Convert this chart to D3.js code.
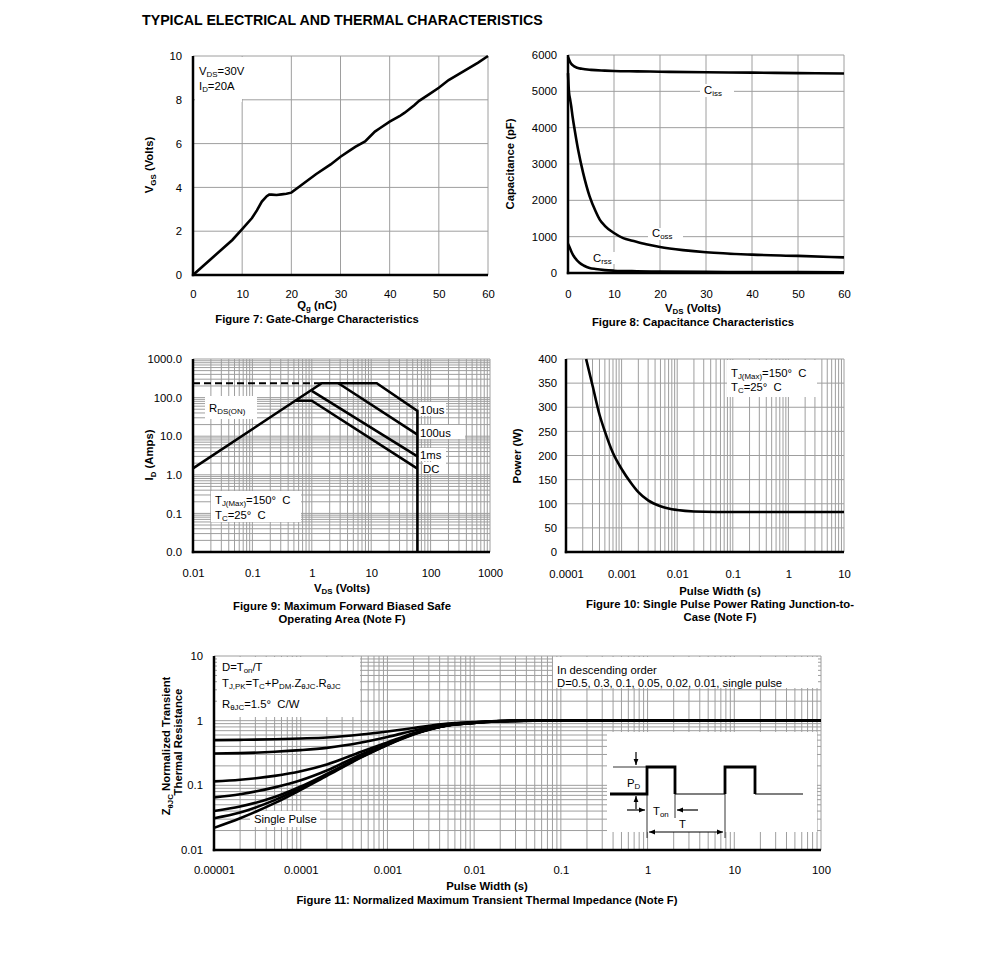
<!DOCTYPE html>
<html>
<head>
<meta charset="utf-8">
<script src="https://cdn.jsdelivr.net/npm/d3@7"></script>
<style>
  body { margin: 0; background: #fff; }
</style>
</head>
<body>
<svg id="chart" width="991" height="959"></svg>
<script>
// ---- Figure 7: gate charge
const qgNc = [0, 2, 4, 6, 8, 10, 12, 13, 14, 15, 15.5, 16, 17, 18, 19, 20, 22, 25, 28, 30, 32, 33, 35, 37, 38, 40, 42, 43, 45, 46, 48, 50, 52, 55, 58, 60]
const vgsVolts = [0, 0.4, 0.8, 1.2, 1.6, 2.1, 2.6, 2.95, 3.35, 3.6, 3.67, 3.67, 3.65, 3.68, 3.71, 3.76, 4.1, 4.6, 5.05, 5.4, 5.7, 5.85, 6.1, 6.55, 6.7, 7.0, 7.25, 7.4, 7.75, 7.95, 8.25, 8.55, 8.9, 9.3, 9.7, 10]
const qgTicks = [0, 10, 20, 30, 40, 50, 60]
const vgsTicks = [0, 2, 4, 6, 8, 10]

// ---- Figure 8: capacitance
const vdsCiss = [0, 0.5, 1, 2, 3, 5, 8, 10, 15, 20, 30, 40, 50, 60]
const ciss = [5950, 5800, 5720, 5650, 5620, 5590, 5570, 5560, 5550, 5540, 5525, 5515, 5500, 5490]
const vdsCoss = [0, 0.2, 0.5, 0.7, 1, 1.5, 2.2, 3.3, 4.7, 6, 6.9, 8, 10, 12, 14, 17, 20, 25, 30, 40, 50, 60]
const coss = [5500, 5000, 4750, 4590, 4300, 3900, 3390, 2750, 2110, 1700, 1470, 1300, 1100, 960, 890, 790, 715, 630, 570, 505, 470, 430]
const vdsCrss = [0, 0.3, 0.7, 1, 1.5, 2.5, 3.5, 4.7, 6, 8, 10, 15, 20, 30, 40, 60]
const crss = [800, 720, 600, 520, 420, 280, 200, 140, 110, 80, 64, 48, 40, 32, 27, 22]
const capVdsTicks = [0, 10, 20, 30, 40, 50, 60]
const capTicks = [0, 1000, 2000, 3000, 4000, 5000, 6000]

// ---- Figure 9: safe operating area
const soaTopV = [0.01, 1.47, 12.4, 60, 60]
const soaTopI = [1.47, 235, 235, 45, 0.01]
const soa100usV = [2.8, 60]
const soa100usI = [235, 11]
const soa1msV = [1, 60]
const soa1msI = [150, 3]
const soaDcV = [0.54, 1, 60]
const soaDcI = [83, 83, 1.45]
const rdsLimitV = [0.01, 1.47]
const rdsLimitI = [235, 235]
const soaVTicks = [0.01, 0.1, 1, 10, 100, 1000]
const soaVLabels = ['0.01', '0.1', '1', '10', '100', '1000']
const soaITicks = [0.01, 0.1, 1, 10, 100, 1000]
const soaILabels = ['0.0', '0.1', '1.0', '10.0', '100.0', '1000.0']

// ---- Figure 10: single pulse power
const pulseS = [0.00023, 0.0003, 0.0004, 0.0005, 0.0007, 0.001, 0.0015, 0.002, 0.003, 0.005, 0.007, 0.01, 0.02, 0.05, 0.1, 1, 10]
const powerW = [400, 345, 285, 250, 205, 172, 142, 124, 107, 95, 90, 87, 84, 83, 83, 83, 83]
const pwTicks = [0.0001, 0.001, 0.01, 0.1, 1, 10]
const pwLabels = ['0.0001', '0.001', '0.01', '0.1', '1', '10']
const powerTicks = [0, 50, 100, 150, 200, 250, 300, 350, 400]

// ---- Figure 11: transient thermal impedance
const zthT = [1e-5, 2e-5, 5e-5, 1e-4, 2e-4, 5e-4, 1e-3, 2e-3, 5e-3, 1e-2, 2e-2, 5e-2, 0.1, 1, 10, 100]
const zthD05 = [0.5, 0.505, 0.515, 0.53, 0.55, 0.61, 0.68, 0.77, 0.9, 0.95, 0.99, 1, 1, 1, 1, 1]
const zthD03 = [0.31, 0.315, 0.33, 0.35, 0.38, 0.46, 0.56, 0.7, 0.87, 0.94, 0.99, 1, 1, 1, 1, 1]
const zthD01 = [0.115, 0.122, 0.14, 0.165, 0.21, 0.33, 0.46, 0.64, 0.85, 0.93, 0.99, 1, 1, 1, 1, 1]
const zthD005 = [0.065, 0.073, 0.093, 0.12, 0.17, 0.3, 0.44, 0.63, 0.85, 0.93, 0.99, 1, 1, 1, 1, 1]
const zthD002 = [0.04, 0.047, 0.066, 0.096, 0.15, 0.28, 0.43, 0.62, 0.85, 0.92, 0.98, 1, 1, 1, 1, 1]
const zthD001 = [0.031, 0.038, 0.059, 0.09, 0.145, 0.275, 0.425, 0.62, 0.85, 0.92, 0.98, 1, 1, 1, 1, 1]
const zthSingle = [0.022, 0.031, 0.053, 0.085, 0.14, 0.27, 0.42, 0.61, 0.84, 0.92, 0.98, 1, 1, 1, 1, 1]
const zthTicks = [1e-5, 1e-4, 1e-3, 1e-2, 0.1, 1, 10, 100]
const zthTLabels = ['0.00001', '0.0001', '0.001', '0.01', '0.1', '1', '10', '100']
const zthTicksY = [0.01, 0.1, 1, 10]
const zthYLabels = ['0.01', '0.1', '1', '10']

const FONT = '"Liberation Sans", Arial, Helvetica, sans-serif'
const FS = 11.3
const GRID = '#9e9e9e'
const svg = d3.select('#chart').attr('font-family', FONT)

// text with subscripts: plain strings are normal, [str] is subscript
function label (g, x, y, parts, opts) {
  opts = opts || {}
  const size = opts.size || FS
  const t = g.append('text')
    .attr('font-size', size)
    .attr('font-weight', opts.bold ? 'bold' : 'normal')
    .attr('text-anchor', opts.anchor || 'start')
    .attr('fill', '#000')
  if (opts.rotate) {
    t.attr('transform', 'translate(' + x + ',' + y + ') rotate(-90)')
  } else {
    t.attr('x', x).attr('y', y)
  }
  let down = false
  parts.forEach(function (p) {
    const isSub = Array.isArray(p)
    const ts = t.append('tspan').text(isSub ? p[0] : p)
    if (isSub) {
      ts.attr('font-size', size * 0.7)
      if (!down) { ts.attr('dy', size * 0.22); down = true }
    } else if (down) {
      ts.attr('dy', -size * 0.22); down = false
    }
  })
  return t
}

function whiteBox (g, x, y, w, h) {
  g.append('rect').attr('x', x).attr('y', y).attr('width', w).attr('height', h).attr('fill', '#fff')
}

function grid (g, x, y, xs, ys) {
  const [x0, x1] = x.range()
  const [y0, y1] = y.range()
  g.append('g').selectAll('line').data(xs).join('line')
    .attr('x1', d => x(d)).attr('x2', d => x(d))
    .attr('y1', y0).attr('y2', y1)
    .attr('stroke', GRID).attr('stroke-width', 1)
  g.append('g').selectAll('line').data(ys).join('line')
    .attr('x1', x0).attr('x2', x1)
    .attr('y1', d => y(d)).attr('y2', d => y(d))
    .attr('stroke', GRID).attr('stroke-width', 1)
}

function curve (g, x, y, xs, ys, opts) {
  opts = opts || {}
  const pts = xs.map((d, i) => [d, ys[i]])
  const line = d3.line().x(d => x(d[0])).y(d => y(d[1]))
    .curve(opts.smooth ? d3.curveMonotoneX : d3.curveLinear)
  g.append('path').datum(pts).attr('d', line)
    .attr('fill', 'none').attr('stroke', '#000')
    .attr('stroke-width', opts.width || 2.6)
    .attr('stroke-linejoin', 'miter')
    .attr('stroke-dasharray', opts.dash || null)
}

function axes (g, x, y, xt, xl, yt, yl, xpad, ypad) {
  const [x0, x1] = x.range()
  const [y0, y1] = y.range()
  g.append('g').attr('transform', 'translate(0,' + y0 + ')')
    .call(d3.axisBottom(x).tickValues(xt).tickFormat((d, i) => xl[i]).tickSize(0).tickPadding(xpad))
    .call(a => a.select('.domain').remove())
    .attr('font-family', FONT).attr('font-size', FS)
  g.append('g').attr('transform', 'translate(' + x0 + ',0)')
    .call(d3.axisLeft(y).tickValues(yt).tickFormat((d, i) => yl[i]).tickSize(0).tickPadding(ypad))
    .call(a => a.select('.domain').remove())
    .attr('font-family', FONT).attr('font-size', FS)
  g.append('line').attr('x1', x0).attr('x2', x0).attr('y1', y0 + 1.2).attr('y2', y1)
    .attr('stroke', '#000').attr('stroke-width', 2.5)
  g.append('line').attr('x1', x0 - 1.2).attr('x2', x1).attr('y1', y0).attr('y2', y0)
    .attr('stroke', '#000').attr('stroke-width', 2.5)
}

// page title
svg.append('text').attr('x', 142).attr('y', 25)
  .attr('font-size', 14.2).attr('font-weight', 'bold')
  .text('TYPICAL ELECTRICAL AND THERMAL CHARACTERISTICS')

// ---------- Figure 7
{
  const g = svg.append('g')
  const x = d3.scaleLinear().domain([0, 60]).range([193, 488])
  const y = d3.scaleLinear().domain([0, 10]).range([275, 56])
  grid(g, x, y, qgTicks, vgsTicks)
  whiteBox(g, 195, 57, 95, 42)
  whiteBox(g, 195, 99, 47, 3)
  curve(g, x, y, qgNc, vgsVolts)
  axes(g, x, y, qgTicks, qgTicks.map(String), vgsTicks, vgsTicks.map(String), 15, 11)
  label(g, 199, 75, ['V', ['DS'], '=30V'])
  label(g, 199, 90, ['I', ['D'], '=20A'])
  label(g, 153, 165, ['V', ['GS'], ' (Volts)'], { bold: true, anchor: 'middle', rotate: true })
  label(g, 317, 309, ['Q', ['g'], ' (nC)'], { bold: true, anchor: 'middle' })
  label(g, 317, 323, ['Figure 7: Gate-Charge Characteristics'], { bold: true, anchor: 'middle' })
}

// ---------- Figure 8
{
  const g = svg.append('g')
  const x = d3.scaleLinear().domain([0, 60]).range([568, 844])
  const y = d3.scaleLinear().domain([0, 6000]).range([273, 55])
  grid(g, x, y, capVdsTicks, capTicks)
  whiteBox(g, 700, 84, 34, 13)
  whiteBox(g, 648, 228, 35, 12)
  whiteBox(g, 590, 252, 25, 12)
  curve(g, x, y, vdsCiss, ciss, { smooth: true })
  curve(g, x, y, vdsCoss, coss, { smooth: true })
  curve(g, x, y, vdsCrss, crss, { smooth: true })
  axes(g, x, y, capVdsTicks, capVdsTicks.map(String), capTicks, capTicks.map(String), 17, 11)
  label(g, 704, 94, ['C', ['iss']])
  label(g, 652, 237, ['C', ['oss']])
  label(g, 593, 262, ['C', ['rss']])
  label(g, 514, 164, ['Capacitance (pF)'], { bold: true, anchor: 'middle', rotate: true })
  label(g, 693, 312, ['V', ['DS'], ' (Volts)'], { bold: true, anchor: 'middle' })
  label(g, 693, 326, ['Figure 8: Capacitance Characteristics'], { bold: true, anchor: 'middle' })
}

// ---------- Figure 9
{
  const g = svg.append('g')
  const x = d3.scaleLog().domain([0.01, 1000]).range([193, 490])
  const y = d3.scaleLog().domain([0.01, 1000]).range([552, 359])
  grid(g, x, y, x.ticks(), y.ticks())
  whiteBox(g, 205, 396, 52, 23)
  whiteBox(g, 211, 491, 90, 31)
  whiteBox(g, 419, 402, 27, 14)
  whiteBox(g, 419, 425, 46, 14)
  whiteBox(g, 419, 448, 27, 13)
  whiteBox(g, 423, 462, 23, 12)
  curve(g, x, y, rdsLimitV, rdsLimitI, { width: 2, dash: '7,4' })
  curve(g, x, y, soaTopV, soaTopI)
  curve(g, x, y, soa100usV, soa100usI)
  curve(g, x, y, soa1msV, soa1msI)
  curve(g, x, y, soaDcV, soaDcI)
  axes(g, x, y, soaVTicks, soaVLabels, soaITicks, soaILabels, 17, 11)
  label(g, 209, 412, ['R', ['DS(ON)']])
  label(g, 420, 414, ['10us'])
  label(g, 420, 437, ['100us'])
  label(g, 420, 459, ['1ms'])
  label(g, 423, 473, ['DC'])
  label(g, 215, 504, ['T', ['J(Max)'], '=150°\u00a0 C'])
  label(g, 215, 519, ['T', ['C'], '=25°\u00a0 C'])
  label(g, 153, 455, ['I', ['D'], ' (Amps)'], { bold: true, anchor: 'middle', rotate: true })
  label(g, 342, 592, ['V', ['DS'], ' (Volts)'], { bold: true, anchor: 'middle' })
  label(g, 342, 610, ['Figure 9: Maximum Forward Biased Safe'], { bold: true, anchor: 'middle' })
  label(g, 342, 623, ['Operating Area (Note F)'], { bold: true, anchor: 'middle' })
}

// ---------- Figure 10
{
  const g = svg.append('g')
  const x = d3.scaleLog().domain([0.0001, 10]).range([566, 844])
  const y = d3.scaleLinear().domain([0, 400]).range([552, 359])
  grid(g, x, y, x.ticks(), powerTicks)
  whiteBox(g, 727, 360, 90, 37)
  curve(g, x, y, pulseS, powerW, { smooth: true })
  axes(g, x, y, pwTicks, pwLabels, powerTicks, powerTicks.map(String), 18, 9)
  label(g, 731, 377, ['T', ['J(Max)'], '=150°\u00a0 C'])
  label(g, 731, 391, ['T', ['C'], '=25°\u00a0 C'])
  label(g, 521, 456, ['Power (W)'], { bold: true, anchor: 'middle', rotate: true })
  label(g, 720, 595, ['Pulse Width (s)'], { bold: true, anchor: 'middle' })
  label(g, 720, 608, ['Figure 10: Single Pulse Power Rating Junction-to-'], { bold: true, anchor: 'middle' })
  label(g, 720, 621, ['Case (Note F)'], { bold: true, anchor: 'middle' })
}

// ---------- Figure 11
{
  const g = svg.append('g')
  const x = d3.scaleLog().domain([1e-5, 100]).range([214, 821])
  const y = d3.scaleLog().domain([0.01, 10]).range([850, 656])
  grid(g, x, y, x.ticks(), y.ticks())
  whiteBox(g, 217, 657, 143, 60)
  whiteBox(g, 553, 657, 265, 31)
  whiteBox(g, 607, 732, 210, 100)
  whiteBox(g, 250, 811, 70, 16)
  ;[zthD05, zthD03, zthD01, zthD005, zthD002, zthD001, zthSingle].forEach(function (s) {
    curve(g, x, y, zthT, s, { smooth: true })
  })
  axes(g, x, y, zthTicks, zthTLabels, zthTicksY, zthYLabels, 16, 11)

  label(g, 222, 671, ['D=T', ['on'], '/T'])
  label(g, 222, 687, ['T', ['J,PK'], '=T', ['C'], '+P', ['DM'], '.Z', ['θJC'], '.R', ['θJC']])
  label(g, 222, 708, ['R', ['θJC'], '=1.5°\u00a0 C/W'])
  label(g, 557, 674, ['In descending order'])
  label(g, 557, 687, ['D=0.5, 0.3, 0.1, 0.05, 0.02, 0.01, single pulse'])
  label(g, 254, 823, ['Single Pulse'])

  // pulse train sketch
  const k = g.append('g').attr('fill', 'none').attr('stroke', '#000')
  const defs = svg.append('defs')
  defs.append('marker').attr('id', 'ah').attr('viewBox', '0 0 10 10')
    .attr('refX', 10).attr('refY', 5).attr('markerWidth', 5).attr('markerHeight', 5)
    .attr('orient', 'auto-start-reverse')
    .append('path').attr('d', 'M0,1L10,5L0,9Z').attr('fill', '#000')
  const seg = (pts, w) => k.append('path').attr('d', d3.line()(pts)).attr('stroke-width', w)
  seg([[610, 794], [647, 794], [647, 767], [675, 767], [675, 794]], 2.8)
  seg([[675, 794], [725, 794]], 1.2)
  seg([[725, 794], [725, 767], [755, 767], [755, 794]], 2.8)
  seg([[755, 794], [803, 794]], 1.2)
  seg([[613, 767], [647, 767]], 0.8)
  seg([[647, 794], [647, 838]], 0.8)
  seg([[675, 794], [675, 818]], 0.8)
  seg([[725, 794], [725, 838]], 0.8)
  seg([[636, 752], [636, 765]], 1.2).attr('marker-end', 'url(#ah)')
  seg([[636, 809], [636, 796]], 1.2).attr('marker-end', 'url(#ah)')
  seg([[627, 810], [645, 810]], 1.2).attr('marker-end', 'url(#ah)')
  seg([[698, 810], [677, 810]], 1.2).attr('marker-end', 'url(#ah)')
  seg([[649, 832], [723, 832]], 1.2).attr('marker-end', 'url(#ah)').attr('marker-start', 'url(#ah)')
  label(g, 627, 787, ['P', ['D']])
  label(g, 653, 815, ['T', ['on']])
  label(g, 679, 828, ['T'])

  label(g, 170, 746, ['Z', ['θJC'], ' Normalized Transient'], { bold: true, anchor: 'middle', rotate: true })
  label(g, 182, 742, ['Thermal Resistance'], { bold: true, anchor: 'middle', rotate: true })
  label(g, 487, 890, ['Pulse Width (s)'], { bold: true, anchor: 'middle' })
  label(g, 487, 904, ['Figure 11: Normalized Maximum Transient Thermal Impedance (Note F)'], { bold: true, anchor: 'middle' })
}
</script>
</body>
</html>
